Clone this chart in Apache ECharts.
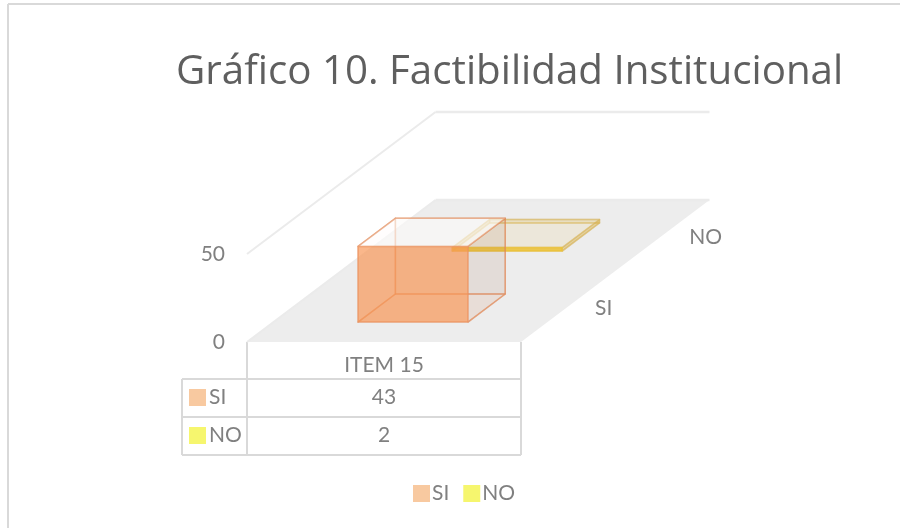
<!DOCTYPE html>
<html lang="es">
  <head>
    <meta charset="UTF-8" />
    <title>Gráfico 10</title>
    <script src="https://cdn.jsdelivr.net/npm/echarts@6/dist/echarts.min.js"></script>
    <style>
      html, body { margin: 0; padding: 0; background: #fff; }
      #box { width: 900px; height: 528px; }
    </style>
  </head>
  <body>
    <div id="box"></div>
    <script>
      var titleText = "Gráfico 10. Factibilidad Institucional";
      var categories = ["ITEM 15"];
      var seriesNames = ["SI", "NO"];
      var siValues = [43];
      var noValues = [2];
      var valueTicks = [0, 50];

      var font = "Lato";
      var textColor = "#808080";
      var lineColor = "#d9d9d9";

      // oblique projection: depth 1 moves this far along the x and value axes
      var shearX = 188.5 / 274;
      var shearY = (142 / 88) * valueTicks[1];
      // depth bands for the two series
      var depthStart = [0.14, 0.64];
      var depthSize = 0.198;
      var barStart = 0.309;
      var barEnd = 0.71;

      function project(api, u, depth, value) {
        return api.coord([u + depth * shearX, value + depth * shearY]);
      }

      function face(points, fill, stroke, width) {
        return {
          type: "polygon",
          shape: { points: points },
          style: { fill: fill, stroke: stroke, lineWidth: width || 1, lineJoin: "round" },
        };
      }

      function renderFloor(params, api) {
        var top = valueTicks[1];
        var wall = "#ebebeb";
        function line(a, b, w) {
          return {
            type: "line",
            shape: { x1: a[0], y1: a[1], x2: b[0], y2: b[1] },
            style: { stroke: wall, lineWidth: w },
          };
        }
        var children = [
          face(
            [project(api, 0, 0, 0), project(api, 1, 0, 0), project(api, 1, 1, 0), project(api, 0, 1, 0)],
            "#ededed"
          ),
          line(project(api, 0, 1, 0), project(api, 1, 1, 0), 2.5),
          line(project(api, 0, 1, top), project(api, 1, 1, top), 2.5),
          line(project(api, 0, 0, top), project(api, 0, 1, top), 2),
          line(project(api, 0, 0, 0), project(api, 0, 1, 0), 2),
        ];
        seriesNames.forEach(function (name, i) {
          var d = depthStart[i] + depthSize / 2;
          var p = project(api, 1, d, 0);
          children.push({
            type: "text",
            x: p[0] + 29,
            y: p[1],
            style: { text: name, fill: textColor, font: "21px " + font, align: "left", verticalAlign: "middle" },
          });
        });
        return { type: "group", children: children };
      }

      function makeBox(index, c) {
        return function (params, api) {
          var v = api.value(1);
          var d0 = depthStart[index];
          var d1 = d0 + depthSize;
          var a = project(api, barStart, d0, 0);
          var b = project(api, barEnd, d0, 0);
          var e = project(api, barEnd, d0, v);
          var f = project(api, barStart, d0, v);
          var p = project(api, barStart, d1, 0);
          var q = project(api, barEnd, d1, 0);
          var r = project(api, barEnd, d1, v);
          var s = project(api, barStart, d1, v);
          return {
            type: "group",
            children: [
              face([a, b, q, p], c.bottom, c.edge, 1.5),
              face([a, f, s, p], c.side, c.edge, 1.5),
              face([p, q, r, s], c.back, c.edge, 1.5),
              face([b, q, r, e], c.right, c.edge, 1.5),
              face([f, e, r, s], c.top, c.edge, 1.5),
              face([a, b, e, f], c.front, c.frontEdge, 1.5),
            ],
          };
        };
      }

      var orange = {
        bottom: "rgba(237,125,49,0.06)",
        side: "rgba(237,125,49,0.02)",
        back: "rgba(150,90,50,0.05)",
        right: "rgba(150,90,50,0.06)",
        top: "rgba(255,255,255,0.6)",
        front: "rgba(247,150,85,0.68)",
        edge: "rgba(226,135,85,0.5)",
        frontEdge: "rgba(238,150,100,0.5)",
      };
      var yellow = {
        bottom: "rgba(225,195,110,0.08)",
        side: "rgba(215,170,50,0.4)",
        back: "rgba(215,170,50,0.2)",
        right: "rgba(215,170,50,0.4)",
        top: "rgba(235,220,160,0.12)",
        front: "rgba(235,190,40,0.8)",
        edge: "rgba(215,180,90,0.45)",
        frontEdge: "rgba(235,195,60,0.8)",
      };

      // frame and data table
      var tableX = [182, 247, 521];
      var tableY = [342, 379, 417, 455];
      var keyColors = ["#f8c9a0", "#f6f66e"];

      function tableLine(x1, y1, x2, y2, w) {
        return {
          type: "line",
          shape: { x1: x1, y1: y1, x2: x2, y2: y2 },
          style: { stroke: lineColor, lineWidth: w || 2 },
        };
      }
      function tableText(text, x, y, align) {
        return {
          type: "text",
          x: x,
          y: y,
          style: { text: text, fill: textColor, font: "21px " + font, align: align || "center", verticalAlign: "middle" },
        };
      }
      var graphics = [
        tableLine(8, 4, 900, 4),
        tableLine(8, 4, 8, 528),
        tableLine(tableX[1], tableY[0], tableX[1], tableY[3]),
        tableLine(tableX[2], tableY[0], tableX[2], tableY[3]),
        tableLine(tableX[0], tableY[1], tableX[0], tableY[3]),
        tableLine(tableX[0], tableY[1], tableX[2], tableY[1]),
        tableLine(tableX[0], tableY[2], tableX[2], tableY[2]),
        tableLine(tableX[0], tableY[3], tableX[2], tableY[3]),
        tableText(categories[0], 384, 365),
        tableText(String(siValues[0]), 384, 397),
        tableText(String(noValues[0]), 384, 435),
      ];
      seriesNames.forEach(function (name, i) {
        graphics.push({
          type: "rect",
          shape: { x: 189, y: 389 + i * 38, width: 17, height: 17 },
          style: { fill: keyColors[i] },
        });
        graphics.push(tableText(name, 209, 397 + i * 38, "left"));
      });

      var myChart = echarts.init(document.getElementById("box"), null, { renderer: "canvas" });
      var option = {
        animation: false,
        title: {
          text: titleText,
          left: 176,
          top: 53,
          padding: 0,
          textStyle: { color: "#5f5f5f", fontFamily: "Open Sans", fontWeight: "normal", fontSize: 40.3 },
        },
        legend: {
          data: seriesNames,
          left: 413,
          top: 483,
          padding: 0,
          itemGap: 14,
          itemWidth: 17,
          itemHeight: 17,
          icon: "rect",
          textStyle: { color: textColor, fontFamily: font, fontSize: 21, padding: [0, 0, 0, -3] },
        },
        grid: { left: 247, top: 254, width: 274, height: 88 },
        xAxis: { type: "value", min: 0, max: 1, show: false },
        yAxis: {
          type: "value",
          min: valueTicks[0],
          max: valueTicks[1],
          interval: valueTicks[1],
          axisLine: { show: false },
          axisTick: { show: false },
          splitLine: { show: false },
          axisLabel: { color: textColor, fontFamily: font, fontSize: 21, margin: 22 },
        },
        graphic: graphics,
        series: [
          {
            type: "custom",
            name: "floor",
            data: [[0, 0]],
            clip: false,
            silent: true,
            renderItem: renderFloor,
          },
          {
            type: "custom",
            name: seriesNames[1],
            data: noValues.map(function (v, i) { return [i, v]; }),
            encode: { x: 0, y: 1 },
            clip: false,
            itemStyle: { color: keyColors[1] },
            renderItem: makeBox(1, yellow),
          },
          {
            type: "custom",
            name: seriesNames[0],
            data: siValues.map(function (v, i) { return [i, v]; }),
            encode: { x: 0, y: 1 },
            clip: false,
            itemStyle: { color: keyColors[0] },
            renderItem: makeBox(0, orange),
          },
        ],
      };
      myChart.setOption(option);
    </script>
  </body>
</html>
